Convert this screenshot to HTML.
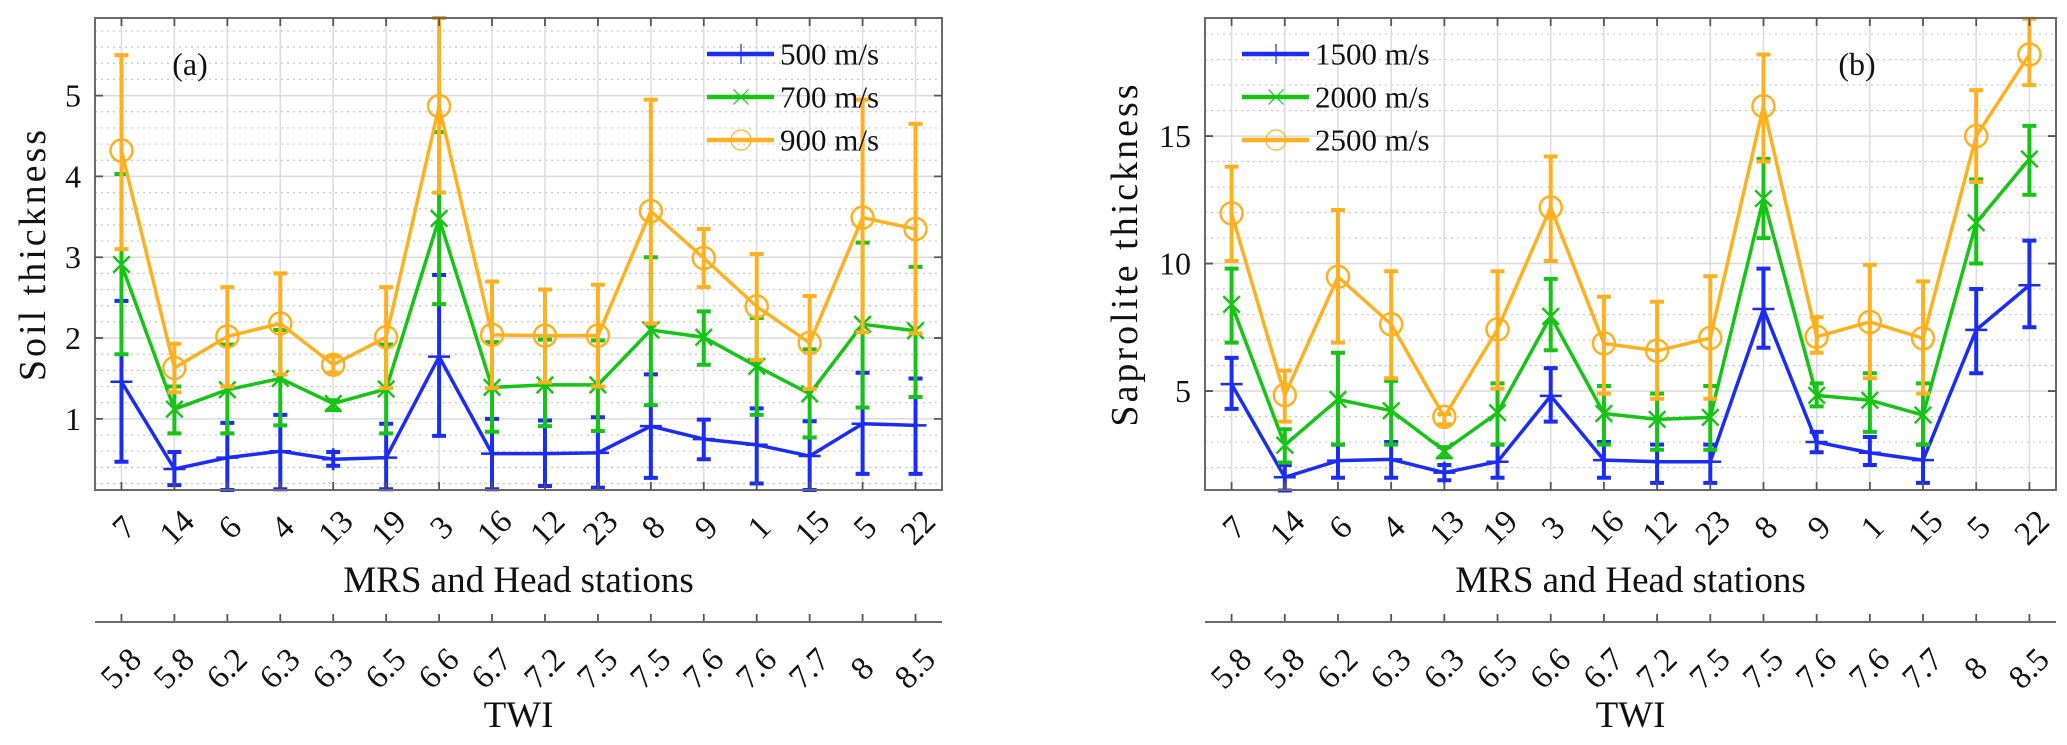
<!DOCTYPE html>
<html><head><meta charset="utf-8"><style>
html,body{margin:0;padding:0;background:#fff;}
svg{display:block;}
svg text{font-family:"Liberation Serif","DejaVu Serif",serif;}
</style></head><body>
<svg id="fig" width="2067" height="745" viewBox="0 0 2067 745" xmlns="http://www.w3.org/2000/svg" font-family="Liberation Serif, serif"></svg>
<script>
// ---- shared categories ----
const stations = ["7","14","6","4","13","19","3","16","12","23","8","9","1","15","5","22"];
const twi = ["5.8","5.8","6.2","6.3","6.3","6.5","6.6","6.7","7.2","7.5","7.5","7.6","7.6","7.7","8","8.5"];

// ---- panel (a) soil thickness ----
const aNames = ["500 m/s","700 m/s","900 m/s"];
const a500 = [1.46,0.38,0.52,0.60,0.50,0.52,1.77,0.57,0.57,0.58,0.91,0.75,0.68,0.54,0.94,0.92];
const a500Hi = [2.46,0.59,0.95,1.05,0.59,0.94,2.78,1.00,0.98,1.02,1.55,0.99,1.13,0.97,1.57,1.50];
const a500Lo = [0.47,0.18,0.12,0.13,0.42,0.13,0.79,0.13,0.17,0.15,0.27,0.50,0.20,0.12,0.32,0.32];
const a700 = [2.91,1.12,1.36,1.50,1.19,1.37,3.48,1.39,1.42,1.42,2.10,2.01,1.65,1.31,2.17,2.09];
const a700Hi = [4.03,1.40,1.92,2.10,1.23,1.92,4.55,1.95,1.98,1.97,3.00,2.33,2.25,1.86,3.18,2.88];
const a700Lo = [1.80,0.82,0.82,0.92,1.11,0.82,2.42,0.84,0.91,0.85,1.17,1.67,1.05,0.77,1.14,1.27];
const a900 = [4.32,1.63,2.02,2.18,1.67,2.01,4.87,2.04,2.03,2.03,3.57,2.99,2.39,1.94,3.49,3.35];
const a900Hi = [5.50,1.93,2.63,2.80,1.77,2.63,5.96,2.70,2.60,2.66,4.95,3.35,3.04,2.52,4.95,4.65];
const a900Lo = [3.10,1.33,1.40,1.55,1.57,1.38,3.80,1.38,1.45,1.40,2.18,2.63,1.73,1.37,2.07,2.06];
const aTicks = [1,2,3,4,5];

// ---- panel (b) saprolite thickness ----
const bNames = ["1500 m/s","2000 m/s","2500 m/s"];
const b1500 = [5.27,1.62,2.27,2.32,1.80,2.23,4.81,2.29,2.23,2.23,8.22,3.00,2.58,2.29,7.40,9.15];
const b1500Hi = [6.3,2.1,2.9,3.0,2.1,2.9,5.9,3.0,2.9,2.9,9.8,3.4,3.2,2.9,9.0,10.9];
const b1500Lo = [4.3,1.1,1.6,1.6,1.5,1.6,3.8,1.6,1.4,1.4,6.7,2.6,2.1,1.4,5.7,7.5];
const b2000 = [8.40,2.88,4.67,4.23,2.66,4.15,7.93,4.12,3.89,3.97,12.55,4.83,4.64,4.06,11.60,14.10];
const b2000Hi = [9.8,3.5,6.5,5.4,2.8,5.3,9.4,5.2,4.9,5.2,14.1,5.3,5.7,5.3,13.3,15.4];
const b2000Lo = [6.9,2.2,2.9,2.9,2.4,2.9,6.6,2.9,2.7,2.7,11.0,4.4,3.4,2.9,10.0,12.7];
const b2500 = [11.97,4.84,9.48,7.62,3.99,7.42,12.20,6.87,6.58,7.08,16.17,7.13,7.71,7.07,15.00,18.20];
const b2500Hi = [13.8,5.8,12.1,9.7,4.1,9.7,14.2,8.7,8.5,9.5,18.2,7.9,9.95,9.3,16.8,19.6];
const b2500Lo = [10.1,3.8,6.9,5.5,3.7,5.1,10.1,4.9,4.7,4.7,14.0,6.5,5.5,4.9,13.2,17.0];
const bTicks = [5,10,15];

const NS = "http://www.w3.org/2000/svg";
const svg = document.getElementById("fig");
const COLORS = ["#1a2cf5","#16c416","#ffb020"];
const MARK = ["plus","x","circle"];
const FONT = "Liberation Serif, DejaVu Serif, serif";

function mk(tag, attrs, parent){
  const e = document.createElementNS(NS, tag);
  for (const k in attrs) e.setAttribute(k, attrs[k]);
  if (tag==="text") e.setAttribute("font-family", FONT);
  (parent||svg).appendChild(e);
  return e;
}

function panel(cfg){
  const g = mk("g", {});
  
  
  const L=cfg.x0, R=cfg.x1, T=18, B=490;
  const n = stations.length;
  const xs = i => L + (i+0.5)*(R-L)/n;
  const ys = v => B - (v - cfg.ymin)/(cfg.ymax-cfg.ymin)*(B-T);
  for (let v=Math.ceil(cfg.ymin/cfg.minor)*cfg.minor; v<cfg.ymax; v+=cfg.minor){
    const y = ys(v);
    const l = mk("line",{x1:L,x2:R,y1:y,y2:y,stroke:"#c4c4c4","stroke-width":1.2,"stroke-dasharray":"2 4"},g);
    
    
  }
  cfg.ticks.forEach(v=>{
    const y=ys(v);
    const l=mk("line",{x1:L,x2:R,y1:y,y2:y,stroke:"#dcdcdc","stroke-width":1.5},g);
    
    
  });
  for (let i=0;i<n;i++){
    const x=xs(i);
    const l=mk("line",{x1:x,x2:x,y1:T,y2:B,stroke:"#dcdcdc","stroke-width":1.5},g);
    
    
  }
  cfg.series.forEach((s,k)=>{
    const sg = mk("g",{},g);
    
    
    const col = COLORS[k];
    for (let i=0;i<n;i++){
      const x=xs(i), yh=ys(Math.min(s.hi[i],cfg.ymax)), yl=ys(s.lo[i]);
      const eb = mk("path",{d:`M${x},${yh}V${yl}M${x-7},${yh}H${x+7}M${x-7},${yl}H${x+7}`,stroke:col,"stroke-width":4,fill:"none"},sg);
      
      
    }
    const pts = s.v.map((v,i)=>xs(i)+","+ys(v)).join(" ");
    const pl = mk("polyline",{points:pts,stroke:col,"stroke-width":3.5,fill:"none","stroke-linejoin":"round"},sg);
    
    
    for (let i=0;i<n;i++) marker(sg, MARK[k], xs(i), ys(s.v[i]), col, 2.5, 11);
  });
  const box = mk("rect",{x:L,y:T,width:R-L,height:B-T,fill:"none",stroke:"#6a6a6a","stroke-width":2},g);
  
  
  for (let i=0;i<n;i++){
    const x=xs(i);
    const t1=mk("path",{d:`M${x},${B}V${B-8}M${x},${T}V${T+8}`,stroke:"#555","stroke-width":1.8},g);
    
    
    const lt = mk("text",{x:0,y:0,"font-size":33,"text-anchor":"middle","dominant-baseline":"central",transform:`translate(${x+3},${528}) rotate(-45)`,fill:"#111"},g);
    lt.textContent = stations[i];
    
    
    const t2=mk("line",{x1:x,x2:x,y1:622,y2:614,stroke:"#555","stroke-width":1.8},g);
    
    
    const tw = mk("text",{x:0,y:0,"font-size":33,"text-anchor":"middle","dominant-baseline":"central",transform:`translate(${x},${669}) rotate(-45)`,fill:"#111"},g);
    tw.textContent = twi[i];
    
    
  }
  cfg.ticks.forEach(v=>{
    const y=ys(v);
    const t=mk("path",{d:`M${L},${y}H${L+8}M${R},${y}H${R-8}`,stroke:"#555","stroke-width":1.8},g);
    
    
    const lb=mk("text",{x:L-14,y:y,"font-size":32,"text-anchor":"end","dominant-baseline":"central",fill:"#111"},g);
    lb.textContent=v;
    
    
  });
  const ax2 = mk("line",{x1:L,x2:R,y1:622,y2:622,stroke:"#6a6a6a","stroke-width":2},g);
  
  
  const xl = mk("text",{x:(L+R)/2,y:592,"font-size":37,"text-anchor":"middle",fill:"#111"},g);
  xl.textContent="MRS and Head stations";
  
  
  const tl = mk("text",{x:(L+R)/2,y:727,"font-size":37,"text-anchor":"middle",fill:"#111"},g);
  tl.textContent="TWI";
  
  
  const yl = mk("text",{x:0,y:0,"font-size":38,"text-anchor":"middle","dominant-baseline":"central",transform:`translate(${cfg.ylx},254) rotate(-90)`,fill:"#111","letter-spacing":"3"},g);
  yl.textContent=cfg.ylabel;
  
  
  const pl = mk("text",{x:cfg.tagx,y:75,"font-size":32,"text-anchor":"middle",fill:"#111"},g);
  pl.textContent=cfg.tag;
  
  
  cfg.names.forEach((nm,k)=>{
    const y=[54,97,140][k];
    const lg = mk("g",{},g);
    
    
    mk("line",{x1:cfg.legx,x2:cfg.legx+67,y1:y,y2:y,stroke:COLORS[k],"stroke-width":4.5},lg);
    marker(lg, MARK[k], cfg.legx+34, y, COLORS[k], 1.2, 10);
    const t=mk("text",{x:cfg.legx+73,y:y,"font-size":31,"dominant-baseline":"central",fill:"#111"},lg);
    t.textContent=nm;
  });
}

function marker(parent,type,x,y,col,w,r){
  let e;
  if (type==="plus") e=mk("path",{d:`M${x-r},${y}H${x+r}M${x},${y-r}V${y+r}`,stroke:col,"stroke-width":w,fill:"none"},parent);
  else if (type==="x"){ const q=r*0.75; e=mk("path",{d:`M${x-q},${y-q}L${x+q},${y+q}M${x-q},${y+q}L${x+q},${y-q}`,stroke:col,"stroke-width":w,fill:"none"},parent);}
  else e=mk("circle",{cx:x,cy:y,r:r,stroke:col,"stroke-width":w,fill:"none"},parent);
  
  
}

panel({id:"panel-a",x0:95,x1:942,ymin:0.12,ymax:5.96,minor:0.2,ticks:aTicks,ylabel:"Soil thickness",ylx:33,tag:"(a)",tagx:190,legx:707,names:aNames,
  series:[{v:a500,hi:a500Hi,lo:a500Lo},{v:a700,hi:a700Hi,lo:a700Lo},{v:a900,hi:a900Hi,lo:a900Lo}]});
panel({id:"panel-b",x0:1205,x1:2056,ymin:1.12,ymax:19.63,minor:1,ticks:bTicks,ylabel:"Saprolite thickness",ylx:1125,tag:"(b)",tagx:1857,legx:1242,names:bNames,
  series:[{v:b1500,hi:b1500Hi,lo:b1500Lo},{v:b2000,hi:b2000Hi,lo:b2000Lo},{v:b2500,hi:b2500Hi,lo:b2500Lo}]});
</script>
</body></html>
